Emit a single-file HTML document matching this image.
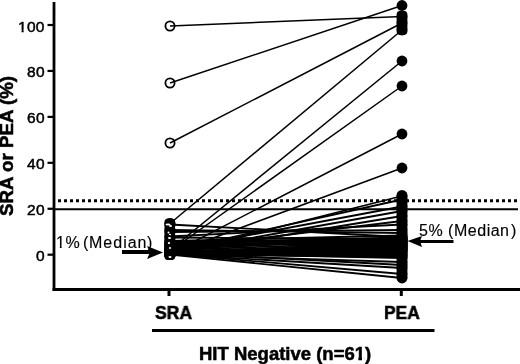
<!DOCTYPE html>
<html><head><meta charset="utf-8"><style>
html,body{margin:0;padding:0;background:#fff;-webkit-font-smoothing:antialiased;}
.t,.tl{will-change:transform;}
#c{position:relative;width:520px;height:364px;overflow:hidden;background:#fff;}
svg{position:absolute;left:0;top:0;}
.t{position:absolute;font-family:"Liberation Sans",sans-serif;color:#000;white-space:pre;line-height:1;}
.tl{position:absolute;right:475px;font-family:"Liberation Sans",sans-serif;font-size:15.5px;line-height:19px;letter-spacing:0.3px;color:#000;-webkit-text-stroke:0.5px #000;}
.m{font-size:16px;letter-spacing:0.5px;-webkit-text-stroke:0.15px #000;}
.b{font-weight:bold;font-size:18.5px;transform-origin:0 0;-webkit-text-stroke:0.55px #000;}
</style></head><body><div id="c">
<svg width="520" height="364" viewBox="0 0 520 364" shape-rendering="geometricPrecision">
<line x1="58" y1="200.7" x2="520" y2="200.7" stroke="#000" stroke-width="3" stroke-dasharray="3 3"/>
<line x1="55" y1="209.3" x2="518" y2="209.3" stroke="#000" stroke-width="2"/>
<line x1="170.0" y1="26.00" x2="402.0" y2="16.50" stroke="#000" stroke-width="1.5"/>
<line x1="170.0" y1="83.00" x2="402.0" y2="5.50" stroke="#000" stroke-width="1.5"/>
<line x1="170.0" y1="143.00" x2="402.0" y2="23.00" stroke="#000" stroke-width="1.5"/>
<line x1="170.0" y1="223.50" x2="402.0" y2="30.00" stroke="#000" stroke-width="1.5"/>
<line x1="170.0" y1="250.00" x2="402.0" y2="61.00" stroke="#000" stroke-width="1.5"/>
<line x1="170.0" y1="251.00" x2="402.0" y2="86.00" stroke="#000" stroke-width="1.5"/>
<line x1="170.0" y1="254.00" x2="402.0" y2="134.00" stroke="#000" stroke-width="1.5"/>
<line x1="170.0" y1="254.00" x2="402.0" y2="168.00" stroke="#000" stroke-width="1.5"/>
<line x1="170.0" y1="224.50" x2="402.0" y2="237.00" stroke="#000" stroke-width="1.8"/>
<line x1="170.0" y1="230.00" x2="402.0" y2="233.00" stroke="#000" stroke-width="1.8"/>
<line x1="170.0" y1="232.00" x2="402.0" y2="230.00" stroke="#000" stroke-width="1.8"/>
<line x1="170.0" y1="236.50" x2="402.0" y2="224.50" stroke="#000" stroke-width="1.8"/>
<line x1="170.0" y1="237.50" x2="402.0" y2="239.00" stroke="#000" stroke-width="1.8"/>
<line x1="170.0" y1="254.50" x2="402.0" y2="196.00" stroke="#000" stroke-width="1.8"/>
<line x1="170.0" y1="251.00" x2="402.0" y2="199.50" stroke="#000" stroke-width="1.8"/>
<line x1="170.0" y1="250.00" x2="402.0" y2="206.50" stroke="#000" stroke-width="1.8"/>
<line x1="170.0" y1="252.50" x2="402.0" y2="211.00" stroke="#000" stroke-width="1.8"/>
<line x1="170.0" y1="254.00" x2="402.0" y2="216.00" stroke="#000" stroke-width="1.8"/>
<line x1="170.0" y1="249.00" x2="402.0" y2="221.00" stroke="#000" stroke-width="1.8"/>
<line x1="170.0" y1="241.00" x2="402.0" y2="235.50" stroke="#000" stroke-width="1.8"/>
<line x1="170.0" y1="242.00" x2="402.0" y2="238.00" stroke="#000" stroke-width="1.8"/>
<line x1="170.0" y1="243.00" x2="402.0" y2="240.00" stroke="#000" stroke-width="1.8"/>
<line x1="170.0" y1="243.50" x2="402.0" y2="238.50" stroke="#000" stroke-width="1.8"/>
<line x1="170.0" y1="244.00" x2="402.0" y2="244.00" stroke="#000" stroke-width="1.8"/>
<line x1="170.0" y1="244.50" x2="402.0" y2="243.50" stroke="#000" stroke-width="1.8"/>
<line x1="170.0" y1="245.00" x2="402.0" y2="240.50" stroke="#000" stroke-width="1.8"/>
<line x1="170.0" y1="246.00" x2="402.0" y2="239.00" stroke="#000" stroke-width="1.8"/>
<line x1="170.0" y1="247.00" x2="402.0" y2="241.00" stroke="#000" stroke-width="1.8"/>
<line x1="170.0" y1="248.00" x2="402.0" y2="237.00" stroke="#000" stroke-width="1.8"/>
<line x1="170.0" y1="249.00" x2="402.0" y2="239.50" stroke="#000" stroke-width="1.8"/>
<line x1="170.0" y1="250.00" x2="402.0" y2="242.00" stroke="#000" stroke-width="1.8"/>
<line x1="170.0" y1="251.00" x2="402.0" y2="248.50" stroke="#000" stroke-width="1.8"/>
<line x1="170.0" y1="251.50" x2="402.0" y2="244.50" stroke="#000" stroke-width="1.8"/>
<line x1="170.0" y1="252.00" x2="402.0" y2="243.20" stroke="#000" stroke-width="1.8"/>
<line x1="170.0" y1="252.20" x2="402.0" y2="246.50" stroke="#000" stroke-width="1.8"/>
<line x1="170.0" y1="252.40" x2="402.0" y2="246.00" stroke="#000" stroke-width="1.8"/>
<line x1="170.0" y1="252.60" x2="402.0" y2="243.00" stroke="#000" stroke-width="1.8"/>
<line x1="170.0" y1="252.80" x2="402.0" y2="245.00" stroke="#000" stroke-width="1.8"/>
<line x1="170.0" y1="253.00" x2="402.0" y2="247.50" stroke="#000" stroke-width="1.8"/>
<line x1="170.0" y1="253.20" x2="402.0" y2="247.00" stroke="#000" stroke-width="1.8"/>
<line x1="170.0" y1="253.40" x2="402.0" y2="242.50" stroke="#000" stroke-width="1.8"/>
<line x1="170.0" y1="253.60" x2="402.0" y2="245.50" stroke="#000" stroke-width="1.8"/>
<line x1="170.0" y1="253.80" x2="402.0" y2="248.00" stroke="#000" stroke-width="1.8"/>
<line x1="170.0" y1="254.00" x2="402.0" y2="250.50" stroke="#000" stroke-width="1.8"/>
<line x1="170.0" y1="254.10" x2="402.0" y2="249.00" stroke="#000" stroke-width="1.8"/>
<line x1="170.0" y1="254.20" x2="402.0" y2="249.50" stroke="#000" stroke-width="1.8"/>
<line x1="170.0" y1="254.30" x2="402.0" y2="250.00" stroke="#000" stroke-width="1.8"/>
<line x1="170.0" y1="254.40" x2="402.0" y2="253.00" stroke="#000" stroke-width="1.8"/>
<line x1="170.0" y1="254.50" x2="402.0" y2="241.50" stroke="#000" stroke-width="1.8"/>
<line x1="170.0" y1="254.50" x2="402.0" y2="257.00" stroke="#000" stroke-width="1.8"/>
<line x1="170.0" y1="254.60" x2="402.0" y2="255.00" stroke="#000" stroke-width="1.8"/>
<line x1="170.0" y1="254.60" x2="402.0" y2="254.00" stroke="#000" stroke-width="1.8"/>
<line x1="170.0" y1="254.60" x2="402.0" y2="251.00" stroke="#000" stroke-width="1.8"/>
<line x1="170.0" y1="254.60" x2="402.0" y2="252.00" stroke="#000" stroke-width="1.8"/>
<line x1="170.0" y1="254.60" x2="402.0" y2="256.00" stroke="#000" stroke-width="1.8"/>
<line x1="170.0" y1="253.00" x2="402.0" y2="258.00" stroke="#000" stroke-width="1.8"/>
<line x1="170.0" y1="254.60" x2="402.0" y2="262.00" stroke="#000" stroke-width="1.8"/>
<line x1="170.0" y1="252.50" x2="402.0" y2="265.00" stroke="#000" stroke-width="1.8"/>
<line x1="170.0" y1="254.30" x2="402.0" y2="268.00" stroke="#000" stroke-width="1.8"/>
<line x1="170.0" y1="253.80" x2="402.0" y2="274.00" stroke="#000" stroke-width="1.8"/>
<line x1="170.0" y1="254.60" x2="402.0" y2="278.00" stroke="#000" stroke-width="1.8"/>
<circle cx="170.0" cy="26.00" r="4.6" fill="none" stroke="#000" stroke-width="1.8"/>
<circle cx="170.0" cy="83.00" r="4.6" fill="none" stroke="#000" stroke-width="1.8"/>
<circle cx="170.0" cy="143.00" r="4.6" fill="none" stroke="#000" stroke-width="1.8"/>
<circle cx="170.0" cy="223.50" r="4.6" fill="none" stroke="#000" stroke-width="1.8"/>
<circle cx="170.0" cy="250.00" r="4.6" fill="none" stroke="#000" stroke-width="1.8"/>
<circle cx="170.0" cy="251.00" r="4.6" fill="none" stroke="#000" stroke-width="1.8"/>
<circle cx="170.0" cy="254.00" r="4.6" fill="none" stroke="#000" stroke-width="1.8"/>
<circle cx="170.0" cy="254.00" r="4.6" fill="none" stroke="#000" stroke-width="1.8"/>
<circle cx="170.0" cy="224.50" r="4.6" fill="none" stroke="#000" stroke-width="1.8"/>
<circle cx="170.0" cy="230.00" r="4.6" fill="none" stroke="#000" stroke-width="1.8"/>
<circle cx="170.0" cy="232.00" r="4.6" fill="none" stroke="#000" stroke-width="1.8"/>
<circle cx="170.0" cy="236.50" r="4.6" fill="none" stroke="#000" stroke-width="1.8"/>
<circle cx="170.0" cy="237.50" r="4.6" fill="none" stroke="#000" stroke-width="1.8"/>
<circle cx="170.0" cy="254.50" r="4.6" fill="none" stroke="#000" stroke-width="1.8"/>
<circle cx="170.0" cy="251.00" r="4.6" fill="none" stroke="#000" stroke-width="1.8"/>
<circle cx="170.0" cy="250.00" r="4.6" fill="none" stroke="#000" stroke-width="1.8"/>
<circle cx="170.0" cy="252.50" r="4.6" fill="none" stroke="#000" stroke-width="1.8"/>
<circle cx="170.0" cy="254.00" r="4.6" fill="none" stroke="#000" stroke-width="1.8"/>
<circle cx="170.0" cy="249.00" r="4.6" fill="none" stroke="#000" stroke-width="1.8"/>
<circle cx="170.0" cy="241.00" r="4.6" fill="none" stroke="#000" stroke-width="1.8"/>
<circle cx="170.0" cy="242.00" r="4.6" fill="none" stroke="#000" stroke-width="1.8"/>
<circle cx="170.0" cy="243.00" r="4.6" fill="none" stroke="#000" stroke-width="1.8"/>
<circle cx="170.0" cy="243.50" r="4.6" fill="none" stroke="#000" stroke-width="1.8"/>
<circle cx="170.0" cy="244.00" r="4.6" fill="none" stroke="#000" stroke-width="1.8"/>
<circle cx="170.0" cy="244.50" r="4.6" fill="none" stroke="#000" stroke-width="1.8"/>
<circle cx="170.0" cy="245.00" r="4.6" fill="none" stroke="#000" stroke-width="1.8"/>
<circle cx="170.0" cy="246.00" r="4.6" fill="none" stroke="#000" stroke-width="1.8"/>
<circle cx="170.0" cy="247.00" r="4.6" fill="none" stroke="#000" stroke-width="1.8"/>
<circle cx="170.0" cy="248.00" r="4.6" fill="none" stroke="#000" stroke-width="1.8"/>
<circle cx="170.0" cy="249.00" r="4.6" fill="none" stroke="#000" stroke-width="1.8"/>
<circle cx="170.0" cy="250.00" r="4.6" fill="none" stroke="#000" stroke-width="1.8"/>
<circle cx="170.0" cy="251.00" r="4.6" fill="none" stroke="#000" stroke-width="1.8"/>
<circle cx="170.0" cy="251.50" r="4.6" fill="none" stroke="#000" stroke-width="1.8"/>
<circle cx="170.0" cy="252.00" r="4.6" fill="none" stroke="#000" stroke-width="1.8"/>
<circle cx="170.0" cy="252.20" r="4.6" fill="none" stroke="#000" stroke-width="1.8"/>
<circle cx="170.0" cy="252.40" r="4.6" fill="none" stroke="#000" stroke-width="1.8"/>
<circle cx="170.0" cy="252.60" r="4.6" fill="none" stroke="#000" stroke-width="1.8"/>
<circle cx="170.0" cy="252.80" r="4.6" fill="none" stroke="#000" stroke-width="1.8"/>
<circle cx="170.0" cy="253.00" r="4.6" fill="none" stroke="#000" stroke-width="1.8"/>
<circle cx="170.0" cy="253.20" r="4.6" fill="none" stroke="#000" stroke-width="1.8"/>
<circle cx="170.0" cy="253.40" r="4.6" fill="none" stroke="#000" stroke-width="1.8"/>
<circle cx="170.0" cy="253.60" r="4.6" fill="none" stroke="#000" stroke-width="1.8"/>
<circle cx="170.0" cy="253.80" r="4.6" fill="none" stroke="#000" stroke-width="1.8"/>
<circle cx="170.0" cy="254.00" r="4.6" fill="none" stroke="#000" stroke-width="1.8"/>
<circle cx="170.0" cy="254.10" r="4.6" fill="none" stroke="#000" stroke-width="1.8"/>
<circle cx="170.0" cy="254.20" r="4.6" fill="none" stroke="#000" stroke-width="1.8"/>
<circle cx="170.0" cy="254.30" r="4.6" fill="none" stroke="#000" stroke-width="1.8"/>
<circle cx="170.0" cy="254.40" r="4.6" fill="none" stroke="#000" stroke-width="1.8"/>
<circle cx="170.0" cy="254.50" r="4.6" fill="none" stroke="#000" stroke-width="1.8"/>
<circle cx="170.0" cy="254.50" r="4.6" fill="none" stroke="#000" stroke-width="1.8"/>
<circle cx="170.0" cy="254.60" r="4.6" fill="none" stroke="#000" stroke-width="1.8"/>
<circle cx="170.0" cy="254.60" r="4.6" fill="none" stroke="#000" stroke-width="1.8"/>
<circle cx="170.0" cy="254.60" r="4.6" fill="none" stroke="#000" stroke-width="1.8"/>
<circle cx="170.0" cy="254.60" r="4.6" fill="none" stroke="#000" stroke-width="1.8"/>
<circle cx="170.0" cy="254.60" r="4.6" fill="none" stroke="#000" stroke-width="1.8"/>
<circle cx="170.0" cy="253.00" r="4.6" fill="none" stroke="#000" stroke-width="1.8"/>
<circle cx="170.0" cy="254.60" r="4.6" fill="none" stroke="#000" stroke-width="1.8"/>
<circle cx="170.0" cy="252.50" r="4.6" fill="none" stroke="#000" stroke-width="1.8"/>
<circle cx="170.0" cy="254.30" r="4.6" fill="none" stroke="#000" stroke-width="1.8"/>
<circle cx="170.0" cy="253.80" r="4.6" fill="none" stroke="#000" stroke-width="1.8"/>
<circle cx="170.0" cy="254.60" r="4.6" fill="none" stroke="#000" stroke-width="1.8"/>
<circle cx="402.0" cy="16.50" r="5.4" fill="#000"/>
<circle cx="402.0" cy="5.50" r="5.4" fill="#000"/>
<circle cx="402.0" cy="23.00" r="5.4" fill="#000"/>
<circle cx="402.0" cy="30.00" r="5.4" fill="#000"/>
<circle cx="402.0" cy="61.00" r="5.4" fill="#000"/>
<circle cx="402.0" cy="86.00" r="5.4" fill="#000"/>
<circle cx="402.0" cy="134.00" r="5.4" fill="#000"/>
<circle cx="402.0" cy="168.00" r="5.4" fill="#000"/>
<circle cx="402.0" cy="237.00" r="5.4" fill="#000"/>
<circle cx="402.0" cy="233.00" r="5.4" fill="#000"/>
<circle cx="402.0" cy="230.00" r="5.4" fill="#000"/>
<circle cx="402.0" cy="224.50" r="5.4" fill="#000"/>
<circle cx="402.0" cy="239.00" r="5.4" fill="#000"/>
<circle cx="402.0" cy="196.00" r="5.4" fill="#000"/>
<circle cx="402.0" cy="199.50" r="5.4" fill="#000"/>
<circle cx="402.0" cy="206.50" r="5.4" fill="#000"/>
<circle cx="402.0" cy="211.00" r="5.4" fill="#000"/>
<circle cx="402.0" cy="216.00" r="5.4" fill="#000"/>
<circle cx="402.0" cy="221.00" r="5.4" fill="#000"/>
<circle cx="402.0" cy="235.50" r="5.4" fill="#000"/>
<circle cx="402.0" cy="238.00" r="5.4" fill="#000"/>
<circle cx="402.0" cy="240.00" r="5.4" fill="#000"/>
<circle cx="402.0" cy="238.50" r="5.4" fill="#000"/>
<circle cx="402.0" cy="244.00" r="5.4" fill="#000"/>
<circle cx="402.0" cy="243.50" r="5.4" fill="#000"/>
<circle cx="402.0" cy="240.50" r="5.4" fill="#000"/>
<circle cx="402.0" cy="239.00" r="5.4" fill="#000"/>
<circle cx="402.0" cy="241.00" r="5.4" fill="#000"/>
<circle cx="402.0" cy="237.00" r="5.4" fill="#000"/>
<circle cx="402.0" cy="239.50" r="5.4" fill="#000"/>
<circle cx="402.0" cy="242.00" r="5.4" fill="#000"/>
<circle cx="402.0" cy="248.50" r="5.4" fill="#000"/>
<circle cx="402.0" cy="244.50" r="5.4" fill="#000"/>
<circle cx="402.0" cy="243.20" r="5.4" fill="#000"/>
<circle cx="402.0" cy="246.50" r="5.4" fill="#000"/>
<circle cx="402.0" cy="246.00" r="5.4" fill="#000"/>
<circle cx="402.0" cy="243.00" r="5.4" fill="#000"/>
<circle cx="402.0" cy="245.00" r="5.4" fill="#000"/>
<circle cx="402.0" cy="247.50" r="5.4" fill="#000"/>
<circle cx="402.0" cy="247.00" r="5.4" fill="#000"/>
<circle cx="402.0" cy="242.50" r="5.4" fill="#000"/>
<circle cx="402.0" cy="245.50" r="5.4" fill="#000"/>
<circle cx="402.0" cy="248.00" r="5.4" fill="#000"/>
<circle cx="402.0" cy="250.50" r="5.4" fill="#000"/>
<circle cx="402.0" cy="249.00" r="5.4" fill="#000"/>
<circle cx="402.0" cy="249.50" r="5.4" fill="#000"/>
<circle cx="402.0" cy="250.00" r="5.4" fill="#000"/>
<circle cx="402.0" cy="253.00" r="5.4" fill="#000"/>
<circle cx="402.0" cy="241.50" r="5.4" fill="#000"/>
<circle cx="402.0" cy="257.00" r="5.4" fill="#000"/>
<circle cx="402.0" cy="255.00" r="5.4" fill="#000"/>
<circle cx="402.0" cy="254.00" r="5.4" fill="#000"/>
<circle cx="402.0" cy="251.00" r="5.4" fill="#000"/>
<circle cx="402.0" cy="252.00" r="5.4" fill="#000"/>
<circle cx="402.0" cy="256.00" r="5.4" fill="#000"/>
<circle cx="402.0" cy="258.00" r="5.4" fill="#000"/>
<circle cx="402.0" cy="262.00" r="5.4" fill="#000"/>
<circle cx="402.0" cy="265.00" r="5.4" fill="#000"/>
<circle cx="402.0" cy="268.00" r="5.4" fill="#000"/>
<circle cx="402.0" cy="274.00" r="5.4" fill="#000"/>
<circle cx="402.0" cy="278.00" r="5.4" fill="#000"/>
<rect x="396.6" y="10.8" width="10.8" height="24.2" rx="4" fill="#000"/>
<rect x="396.6" y="190.2" width="10.8" height="92.3" rx="5" fill="#000"/>
<rect x="164.5" y="218.5" width="10.5" height="41.5" rx="3.5" fill="#000"/>
<ellipse cx="168" cy="224.5" rx="2.5" ry="1" fill="#fff"/>
<ellipse cx="170.5" cy="226" rx="1.5" ry="1" fill="#fff"/>
<ellipse cx="168.5" cy="232.5" rx="1" ry="1" fill="#fff"/>
<ellipse cx="170" cy="234.5" rx="1.2" ry="0.8" fill="#fff"/>
<ellipse cx="169.5" cy="238" rx="1.5" ry="1" fill="#fff"/>
<ellipse cx="169" cy="243" rx="1.2" ry="1" fill="#fff"/>
<ellipse cx="170" cy="248" rx="1" ry="1" fill="#fff"/>
<ellipse cx="170" cy="257" rx="1.5" ry="1" fill="#fff"/>
<line x1="54" y1="2" x2="54" y2="291" stroke="#000" stroke-width="2.8"/>
<line x1="52.6" y1="289.5" x2="520" y2="289.5" stroke="#000" stroke-width="3"/>
<line x1="47.5" y1="254.7" x2="54" y2="254.7" stroke="#000" stroke-width="2.2"/>
<line x1="47.5" y1="208.76" x2="54" y2="208.76" stroke="#000" stroke-width="2.2"/>
<line x1="47.5" y1="162.82" x2="54" y2="162.82" stroke="#000" stroke-width="2.2"/>
<line x1="47.5" y1="116.87999999999997" x2="54" y2="116.87999999999997" stroke="#000" stroke-width="2.2"/>
<line x1="47.5" y1="70.93999999999997" x2="54" y2="70.93999999999997" stroke="#000" stroke-width="2.2"/>
<line x1="47.5" y1="24.99999999999997" x2="54" y2="24.99999999999997" stroke="#000" stroke-width="2.2"/>
<line x1="169" y1="291" x2="169" y2="296" stroke="#000" stroke-width="3"/>
<line x1="401.3" y1="291" x2="401.3" y2="296" stroke="#000" stroke-width="3"/>
<line x1="152" y1="330.5" x2="434.5" y2="330.5" stroke="#000" stroke-width="3"/>
<line x1="122" y1="252" x2="152" y2="252" stroke="#000" stroke-width="4"/>
<polygon points="163,252.5 147,246 150,252.5 147,259" fill="#000"/>
<line x1="418" y1="241.5" x2="453.5" y2="241.5" stroke="#000" stroke-width="3"/>
<polygon points="407.5,241 422,236 420,241 422,247" fill="#000"/>
</svg>
<div class="tl" style="top:246.2px">0</div><div class="tl" style="top:200.3px">20</div><div class="tl" style="top:154.3px">40</div><div class="tl" style="top:108.4px">60</div><div class="tl" style="top:62.4px">80</div><div class="tl" style="top:16.5px">100</div>
<div class="t b" style="left:155px;top:303.5px;transform:scaleX(0.95)">SRA</div>
<div class="t b" style="left:384px;top:303.5px;transform:scaleX(0.94)">PEA</div>
<div class="t b" style="left:198.5px;top:344.5px;transform:scaleX(1)">HIT Negative (n=61)</div>
<div class="t b" style="left:-2px;top:215.6px;transform:rotate(-90deg) scaleX(1.012)">SRA or PEA (%)</div>
<div class="t m" style="left:56px;top:235px">1%</div><div class="t m" style="left:82.5px;top:235px">(</div><div class="t m" style="left:89px;top:235px;letter-spacing:1px">Median</div><div class="t m" style="left:146.5px;top:235px">)</div>
<div class="t m" style="left:419px;top:223px">5%</div><div class="t m" style="left:447.5px;top:223px">(</div><div class="t m" style="left:454px;top:223px">Median</div><div class="t m" style="left:510.5px;top:223px">)</div>
<svg width="520" height="364" viewBox="0 0 520 364" style="position:absolute;left:0;top:0">
<rect x="17" y="29.8" width="4.55" height="3.2" fill="#fff"/><rect x="23.65" y="29.8" width="3.35" height="3.2" fill="#fff"/>
<rect x="56.5" y="245.7" width="3.3" height="3.3" fill="#fff"/><rect x="61.7" y="245.7" width="3.3" height="3.3" fill="#fff"/>
<rect x="354.5" y="357.2" width="3.8" height="3.8" fill="#fff"/><rect x="362" y="357.2" width="2.9" height="3.8" fill="#fff"/>
</svg>
</div></body></html>
